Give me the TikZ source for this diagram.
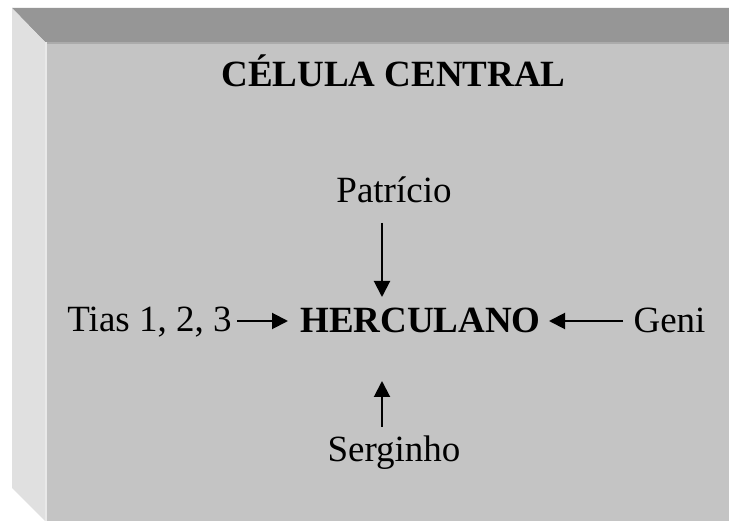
\documentclass[tikz,border=0pt]{standalone}
\usepackage{fontspec}
\setmainfont{Liberation Serif}
\usetikzlibrary{arrows.meta}
\definecolor{topband}{HTML}{969696}
\definecolor{topstrip}{HTML}{ABABAB}
\definecolor{leftband}{HTML}{E0E0E0}
\definecolor{leftstrip}{HTML}{E9E9E9}
\definecolor{face}{HTML}{C4C4C4}
\tikzset{
  lbl/.style={anchor=base, inner sep=0pt, font=\fontsize{37}{41}\selectfont},
  blbl/.style={lbl, font=\fontsize{37}{41}\selectfont\bfseries},
  conn/.style={line width=2pt, -{Triangle[length=16pt,width=16pt]}}
}
\begin{document}
\begin{tikzpicture}[x=1pt,y=-1pt]
\useasboundingbox (0,0) rectangle (729,521);
\fill[white] (0,0) rectangle (729,521);
\fill[topband] (12,8) -- (729,8) -- (729,42) -- (45,42) -- cycle;
\fill[leftband] (12,8) -- (45,42) -- (45,521) -- (12,488) -- cycle;
\fill[topstrip] (45,42) rectangle (729,44);
\fill[leftstrip] (45,42) rectangle (47,521);
\fill[face] (47,44) rectangle (729,521);

\node[blbl] (title) at (393.5,87) {CÉLULA CENTRAL};
\node[blbl] (herc) at (420.5,333) {HERCULANO};
\node[lbl] (pat) at (394,203) {Patrício};
\node[lbl] (ser) at (394,462) {Serginho};
\node[lbl] (tias) at (149.5,332) {Tias 1, 2, 3};
\node[lbl] (geni) at (669.5,333) {Geni};

\coordinate (tiasA) at (237,321);
\coordinate (tiasB) at (288,321);
\coordinate (geniA) at (623,321);
\coordinate (geniB) at (549,321);
\coordinate (patA) at (382,223);
\coordinate (patB) at (382,297);
\coordinate (serA) at (382,427);
\coordinate (serB) at (382,381);
\draw[conn] (tiasA) -- (tiasB);
\draw[conn] (geniA) -- (geniB);
\draw[conn] (patA) -- (patB);
\draw[conn] (serA) -- (serB);
\end{tikzpicture}
\end{document}
